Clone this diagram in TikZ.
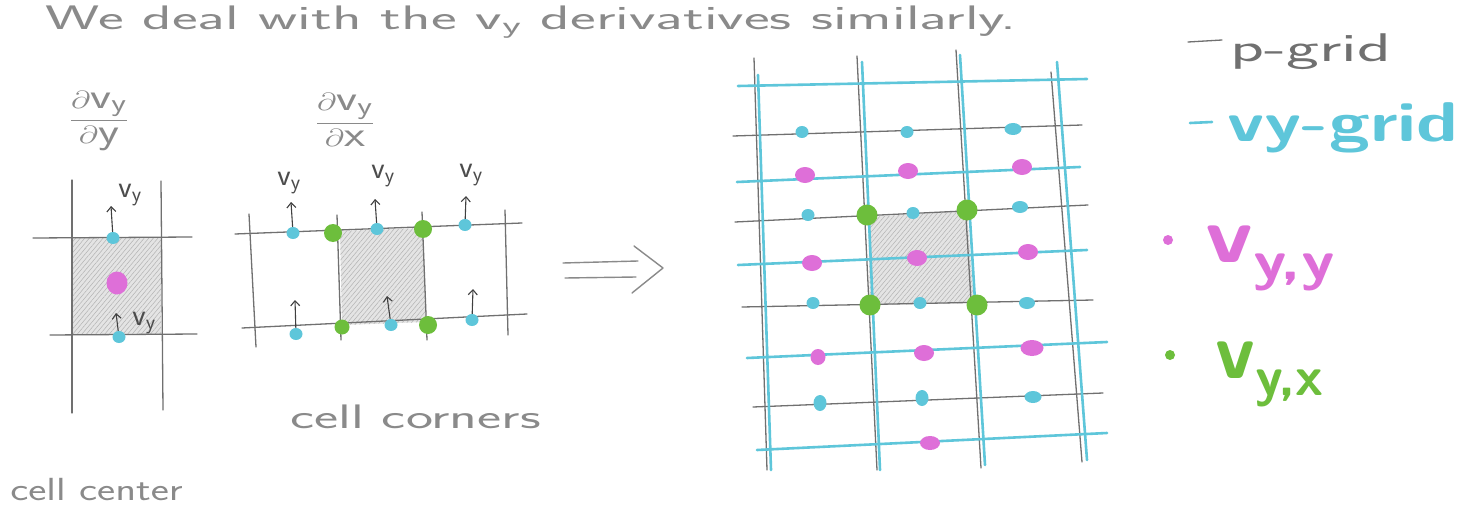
\documentclass[tikz,border=0pt]{standalone}
\usepackage{amsmath}
\usepackage{fontspec}
\usetikzlibrary{arrows.meta,patterns.meta,shapes.geometric}
\definecolor{pgray}{HTML}{707070}
\definecolor{tgray}{HTML}{8A8A8A}
\definecolor{vyblue}{HTML}{5EC6DA}
\definecolor{mag}{HTML}{DE6FD8}
\definecolor{grn}{HTML}{6DBE3C}
\definecolor{shade}{HTML}{E4E4E4}
\tikzset{
  pline/.style={draw=pgray, line width=1.3pt, line cap=round},
  bline/.style={draw=vyblue, line width=2.6pt, line cap=round},
  tline/.style={draw=tgray, line width=1.4pt, line cap=round, line join=round},
  cellshade/.style={fill=shade, postaction={pattern={Lines[angle=50,distance=3.5pt,line width=0.5pt]}, pattern color=black!30}},
  bdot/.style={ellipse, fill=vyblue, inner sep=0pt, minimum width=13pt, minimum height=12pt},
  mdot/.style={ellipse, fill=mag, inner sep=0pt, minimum width=20pt, minimum height=16pt},
  gdot/.style={circle, fill=grn, inner sep=0pt, minimum size=18pt},
  uparr/.style={draw=black!75, line width=1.1pt, -{Straight Barb[length=5pt,width=9pt]}},
  txt/.style={text=tgray, font=\sffamily, inner sep=0pt},
  vlab/.style={text=black!70, font=\sffamily\fontsize{31}{34}\selectfont, inner sep=0pt},
}
\begin{document}
\begin{tikzpicture}[x=1pt,y=-1pt]
\useasboundingbox (0,0) rectangle (1459,508);
\fill[white] (0,0) rectangle (1459,508);

% ---- title ----
\node[txt, anchor=base west, font=\sffamily\fontsize{34}{38}\selectfont, xscale=1.8] (title) at (45,30)
  {We deal with the v\textsubscript{y} derivatives similarly.};

% ---- left panel: cell center ----
\node[txt, font=\fontsize{36}{40}\selectfont, xscale=1.35] (fracL) at (99,121) {$\dfrac{\partial \mathsf{v}_{\mathsf{y}}}{\partial \mathsf{y}}$};
\fill[cellshade] (72,238) rectangle (161,334);
\draw[pline] (72,180) -- (72,413);
\draw[pline] (161,181) -- (163,410);
\draw[pline] (33,238) -- (192,237);
\draw[pline] (50,335) -- (197,334);
\node[bdot] (l1) at (113,238) {};
\node[mdot, minimum width=21pt, minimum height=23pt] (l2) at (117,283) {};
\node[bdot] (l3) at (119,337) {};
\coordinate (l1t) at (111,206);
\coordinate (l3t) at (116,313);
\draw[uparr] (l1) -- (l1t);
\draw[uparr] (l3) -- (l3t);
\node[vlab] (lv1) at (130,195) {v\textsubscript{y}};
\node[vlab] (lv3) at (144,323) {v\textsubscript{y}};
\node[txt, font=\sffamily\fontsize{32}{36}\selectfont, xscale=1.35, anchor=base west] (cc) at (10,500) {cell center};

% ---- middle panel: cell corners ----
\node[txt, font=\fontsize{36}{40}\selectfont, xscale=1.35] (fracM) at (345,120) {$\dfrac{\partial \mathsf{v}_{\mathsf{y}}}{\partial \mathsf{x}}$};
\fill[cellshade] (340,231) -- (423,228) -- (426,322) -- (342,325) -- cycle;
\draw[pline] (235,234) -- (522,223);
\draw[pline] (242,328) -- (527,314);
\draw[pline] (249,214) -- (256,347);
\draw[pline] (337,215) -- (341,340);
\draw[pline] (422,212) -- (427,340);
\draw[pline] (505,210) -- (508,335);
\node[bdot] (m1) at (293,233) {};
\node[bdot] (m2) at (377,229) {};
\node[bdot] (m3) at (465,225) {};
\node[bdot] (m4) at (296,334) {};
\node[bdot] (m5) at (391,325) {};
\node[bdot] (m6) at (472,320) {};
\node[gdot] (g1) at (333,233) {};
\node[gdot] (g2) at (423,229) {};
\node[gdot, minimum size=15pt] (g3) at (342,327) {};
\node[gdot] (g4) at (428,325) {};
\coordinate (m1t) at (291,202);
\coordinate (m2t) at (375,199);
\coordinate (m3t) at (466,196);
\coordinate (m4t) at (295,300);
\coordinate (m5t) at (387,296);
\coordinate (m6t) at (473,289);
\foreach \a in {m1,m2,m3,m4,m5,m6} \draw[uparr] (\a) -- (\a t);
\node[vlab] (mv1) at (289,183) {v\textsubscript{y}};
\node[vlab] (mv2) at (383,176) {v\textsubscript{y}};
\node[vlab] (mv3) at (471,175) {v\textsubscript{y}};
\node[txt, font=\sffamily\fontsize{34}{38}\selectfont, xscale=1.69, anchor=base west] (ccorn) at (290,428) {cell corners};

% ---- implication arrow ----
\coordinate (a1) at (563,263); \coordinate (a2) at (638,261);
\coordinate (a3) at (565,278); \coordinate (a4) at (636,277);
\coordinate (a5) at (634,246); \coordinate (a6) at (663,268); \coordinate (a7) at (632,293);
\draw[tline] (a1) -- (a2);
\draw[tline] (a3) -- (a4);
\draw[tline] (a5) -- (a6) -- (a7);

% ---- right grid ----
\fill[cellshade] (868,217) -- (967,211) -- (974,303) -- (870,305) -- cycle;
% p-grid horizontal
\draw[pline] (733,136) -- (1082,125);
\draw[pline] (735,222) -- (1088,205);
\draw[pline] (742,307) -- (1093,300);
\draw[pline] (753,407) -- (1103,393);
% p-grid vertical
\draw[pline] (754,58) -- (767,470);
\draw[pline] (857,56) -- (877,470);
\draw[pline] (956,50) -- (981,468);
\draw[pline] (1051,72) -- (1082,462);
% vy-grid
\draw[bline] (738,86) -- (1087,79);
\draw[bline] (737,182) -- (1080,167);
\draw[bline] (738,265) -- (1087,250);
\draw[bline] (747,358) -- (1107,342);
\draw[bline] (757,450) -- (1107,433);
\draw[bline] (758,75) -- (771,470);
\draw[bline] (862,62) -- (880,470);
\draw[bline] (960,55) -- (985,465);
\draw[bline] (1057,62) -- (1087,460);
% dots
\node[bdot] (r11) at (802,132) {};
\node[bdot] (r12) at (907,132) {};
\node[bdot, minimum width=17pt] (r13) at (1013,129) {};
\node[mdot] (s11) at (805,175) {};
\node[mdot] (s12) at (908,171) {};
\node[mdot] (s13) at (1022,167) {};
\node[bdot] (r21) at (808,215) {};
\node[bdot] (r22) at (913,213) {};
\node[bdot, minimum width=16pt] (r23) at (1020,207) {};
\node[mdot] (s21) at (812,263) {};
\node[mdot] (s22) at (917,258) {};
\node[mdot] (s23) at (1028,252) {};
\node[bdot] (r31) at (813,303) {};
\node[bdot] (r32) at (920,303) {};
\node[bdot, minimum width=16pt] (r33) at (1027,303) {};
\node[mdot, minimum width=15pt] (s31) at (818,357) {};
\node[mdot] (s32) at (924,353) {};
\node[mdot, minimum width=23pt] (s33) at (1032,348) {};
\node[bdot, minimum height=16pt] (r41) at (820,403) {};
\node[bdot, minimum height=16pt] (r42) at (922,398) {};
\node[bdot, minimum width=17pt] (r43) at (1033,397) {};
\node[mdot, minimum height=14pt] (s42) at (930,443) {};
\node[gdot, minimum size=21pt] (rg1) at (867,215) {};
\node[gdot, minimum size=21pt] (rg2) at (967,210) {};
\node[gdot, minimum size=21pt] (rg3) at (870,305) {};
\node[gdot, minimum size=21pt] (rg4) at (977,305) {};

% ---- legend ----
\coordinate (lp1) at (1188,42); \coordinate (lp2) at (1222,40);
\draw[pline] (lp1) -- (lp2);
\node[txt, text=pgray, font=\sffamily\fontsize{40}{44}\selectfont, xscale=1.75, anchor=base west] (lgp) at (1230,62) {p-grid};
\coordinate (lb1) at (1190,123); \coordinate (lb2) at (1212,122);
\draw[bline] (lb1) -- (lb2);
\node[txt, text=vyblue, font=\sffamily\bfseries\fontsize{56}{60}\selectfont, xscale=1.33, anchor=base west] (lgb) at (1227,142) {vy-grid};
\node[circle, fill=mag, inner sep=0pt, minimum size=10pt] (lgm) at (1168,240) {};
\node[txt, text=mag, font=\sffamily\bfseries\fontsize{80}{84}\selectfont, xscale=1.2, anchor=base west] (lgmt) at (1205,262) {v\textsubscript{y,y}};
\node[circle, fill=grn, inner sep=0pt, minimum size=10pt] (lgg) at (1170,355) {};
\node[txt, text=grn, font=\sffamily\bfseries\fontsize{80}{84}\selectfont, anchor=base west] (lggt) at (1215,378) {v\textsubscript{y,x}};
\end{tikzpicture}
\end{document}
